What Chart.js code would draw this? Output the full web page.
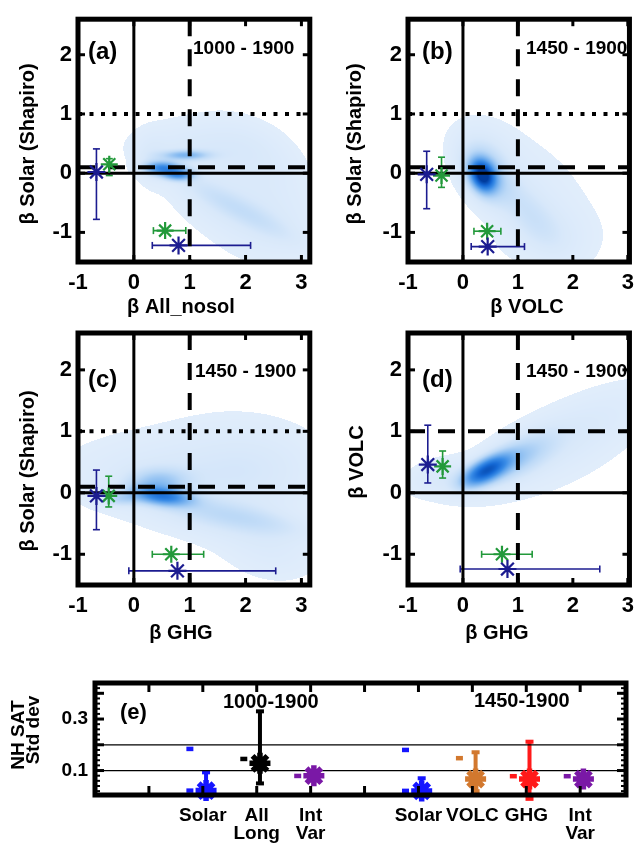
<!DOCTYPE html>
<html>
<head>
<meta charset="utf-8">
<script src="https://cdn.jsdelivr.net/npm/chart.js@4.4.1/dist/chart.umd.min.js"></script>
<style>
  body { margin: 0; background: #fff; width: 642px; height: 845px; position: relative; overflow: hidden; }
  canvas { position: absolute; }
</style>
</head>
<body>
<canvas id="pa" width="321" height="325" style="left:0;top:0"></canvas>
<canvas id="pb" width="321" height="325" style="left:321px;top:0"></canvas>
<canvas id="pc" width="321" height="345" style="left:0;top:300px"></canvas>
<canvas id="pd" width="321" height="345" style="left:321px;top:300px"></canvas>
<canvas id="pe" width="642" height="185" style="left:0;top:660px"></canvas>
<script>
// ---------- data ----------
// scatter panels: rows are [x, y, xLow, xHigh, yLow, yHigh]
const blueA  = [[-0.67, 0.02, null, null, -0.78, 0.41], [0.80, -1.22, 0.33, 2.09, null, null]];
const greenA = [[-0.44, 0.15, null, null, -0.04, 0.245], [0.56, -0.97, 0.35, 0.93, null, null]];
const blueB  = [[-0.66, -0.02, null, null, -0.60, 0.37], [0.45, -1.24, 0.15, 1.12, null, null]];
const greenB = [[-0.39, -0.04, null, null, -0.24, 0.27], [0.44, -0.98, 0.20, 0.69, null, null]];
const blueC  = [[-0.67, -0.05, null, null, -0.60, 0.37], [0.78, -1.27, -0.09, 2.54, null, null]];
const greenC = [[-0.45, -0.05, null, null, -0.23, 0.27], [0.67, -1.00, 0.33, 1.25, null, null]];
const blueD  = [[-0.64, 0.46, null, null, 0.16, 1.10], [0.81, -1.24, -0.05, 2.49, null, null]];
const greenD = [[-0.37, 0.43, null, null, 0.24, 0.68], [0.71, -1.00, 0.34, 1.26, null, null]];

// density clouds: blobs [cx, cy, spread along, spread across, angle deg, weight]
const cloudA = [[0.52, 0.08, 0.22, 0.075, 0, 0.50], [0.80, -0.03, 0.18, 0.065, 0, 0.45],
  [0.92, 0.30, 0.28, 0.055, 0, 0.28], [1.00, 0.45, 0.80, 0.30, 0, 0.06],
  [2.00, -0.05, 0.85, 0.55, -30, 0.06], [2.45, -0.95, 0.70, 0.45, -15, 0.06],
  [1.25, -0.45, 0.60, 0.30, -30, 0.05], [1.90, -0.62, 0.80, 0.14, -27, 0.08],
  [0.30, 0.20, 0.20, 0.30, 0, 0.05], [2.30, 0.35, 0.60, 0.30, -30, 0.03]];
const cloudB = [[0.36, -0.04, 0.17, 0.13, -60, 0.85], [0.40, -0.05, 0.33, 0.24, -55, 0.25],
  [1.15, -0.62, 0.60, 0.25, -45, 0.09], [0.35, 0.35, 0.45, 0.35, -30, 0.07],
  [1.35, -0.40, 0.90, 0.60, -45, 0.05], [1.50, -1.10, 0.65, 0.35, 0, 0.04]];
const cloudC = [[0.50, -0.05, 0.35, 0.10, -6, 0.55], [0.45, 0.20, 0.35, 0.13, 0, 0.20],
  [-0.25, -0.10, 0.25, 0.08, 0, 0.15], [1.80, -0.38, 0.90, 0.15, -10, 0.12],
  [0.20, 0.30, 1.10, 0.45, 0, 0.07], [1.90, 0.20, 1.00, 0.70, -15, 0.06],
  [2.50, -0.95, 0.60, 0.35, -10, 0.05], [1.20, -0.50, 0.80, 0.20, -10, 0.04],
  [2.40, 0.50, 0.80, 0.45, 0, 0.04]];
const cloudD = [[0.42, 0.36, 0.30, 0.12, 25, 0.70], [0.95, 0.55, 0.50, 0.20, 25, 0.20],
  [2.00, 1.00, 1.20, 0.35, 24, 0.06], [-0.40, 0.25, 0.45, 0.20, 8, 0.08],
  [1.60, 0.60, 1.30, 0.50, 20, 0.035]];

const xTickVals = [-1, 0, 1, 2, 3];
const yTickVals = [-1, 0, 1, 2];

// panel (e)
const eLabels = [['Solar'], ['All', 'Long'], ['Int', 'Var'], ['Solar'], ['VOLC'], ['GHG'], ['Int', 'Var']];
const ePos  = [2, 3, 4, 6, 7, 8, 9];
const eStar = [0.022, 0.128, 0.080, 0.021, 0.067, 0.067, 0.067];
const eLo   = [0.000, 0.050, null, 0.000, 0.020, -0.010, null];
const eHi   = [0.093, 0.330, null, 0.070, 0.171, 0.212, null];
const eDash = [[0.184, 0.022], [0.145], [0.079], [0.180, 0.021], [0.148], [0.078], [0.078]];
const eColors = ['#1515ff', '#000000', '#7a18a6', '#1515ff', '#d2782e', '#ff1a1a', '#7a18a6'];
const eRefLines = [0.1, 0.2];

// ---------- look ----------
const FONT = "'Liberation Sans', Arial, Helvetica, sans-serif";
const NAVY = '#1c1c90';
const GREEN = '#22993a';
Chart.defaults.font.family = FONT;
Chart.defaults.color = '#000';

const cmapStops = [[0, [228, 239, 252]], [0.1, [216, 232, 250]], [0.2, [188, 217, 247]],
  [0.35, [128, 183, 240]], [0.55, [58, 140, 230]], [0.75, [20, 104, 212]], [1, [0, 60, 158]]];
function cmap(t) {
  t = Math.min(1, t);
  for (let i = 1; i < cmapStops.length; i++) {
    if (t <= cmapStops[i][0]) {
      const [t0, c0] = cmapStops[i - 1], [t1, c1] = cmapStops[i];
      const f = (t - t0) / (t1 - t0);
      return c0.map((c, k) => Math.round(c + (c1[k] - c) * f));
    }
  }
  return cmapStops[cmapStops.length - 1][1];
}

// density cloud painted pixel by pixel through the chart scales
const cloudPlugin = {
  id: 'cloud',
  beforeDatasetsDraw(chart, args, opts) {
    if (!opts.blobs) return;
    const area = chart.chartArea, xs = chart.scales.x, ys = chart.scales.y;
    const w = Math.round(area.right - area.left), h = Math.round(area.bottom - area.top);
    const comps = opts.blobs.map(b => {
      const t = b[4] * Math.PI / 180;
      return { cx: b[0], cy: b[1], a: b[2], b: b[3], c: Math.cos(t), s: Math.sin(t), w: b[5] };
    });
    const img = chart.ctx.createImageData(w, h);
    for (let j = 0; j < h; j++) {
      const yv = ys.getValueForPixel(area.top + j + 0.5);
      for (let i = 0; i < w; i++) {
        const xv = xs.getValueForPixel(area.left + i + 0.5);
        let d = 0;
        comps.forEach(k => {
          const dx = xv - k.cx, dy = yv - k.cy;
          const u = dx * k.c + dy * k.s, v = -dx * k.s + dy * k.c;
          d += k.w * Math.exp(-0.5 * (u * u / (k.a * k.a) + v * v / (k.b * k.b)));
        });
        if (d < 0.025) continue;
        const col = cmap(d), p = (j * w + i) * 4;
        img.data[p] = col[0]; img.data[p + 1] = col[1]; img.data[p + 2] = col[2]; img.data[p + 3] = 255;
      }
    }
    chart.ctx.putImageData(img, Math.round(area.left), Math.round(area.top));
  }
};

// error bars with caps
const errPlugin = {
  id: 'errbars',
  beforeDatasetsDraw(chart, args, opts) {
    const ctx = chart.ctx, xs = chart.scales.x, ys = chart.scales.y;
    (opts.sets || []).forEach(set => {
      ctx.save();
      ctx.strokeStyle = set.color;
      ctx.lineWidth = set.width;
      const cap = set.cap;
      const seg = (x1, y1, x2, y2) => { ctx.beginPath(); ctx.moveTo(x1, y1); ctx.lineTo(x2, y2); ctx.stroke(); };
      set.rows.forEach(r => {
        const px = xs.getPixelForValue(r[0]), py = ys.getPixelForValue(r[1]);
        if (r[2] != null) {
          const a = xs.getPixelForValue(r[2]), b = xs.getPixelForValue(r[3]);
          seg(a, py, b, py); seg(a, py - cap, a, py + cap); seg(b, py - cap, b, py + cap);
        }
        if (r[4] != null) {
          const a = ys.getPixelForValue(r[4]), b = ys.getPixelForValue(r[5]);
          seg(px, a, px, b); seg(px - cap, a, px + cap, a); seg(px - cap, b, px + cap, b);
        }
      });
      ctx.restore();
    });
  }
};

// thick box with inward ticks
const framePlugin = {
  id: 'frame',
  afterDatasetsDraw(chart, args, opts) {
    const ctx = chart.ctx, a = chart.chartArea, xs = chart.scales.x, ys = chart.scales.y;
    ctx.save();
    ctx.strokeStyle = '#000';
    ctx.lineWidth = 3;
    const seg = (x1, y1, x2, y2) => { ctx.beginPath(); ctx.moveTo(x1, y1); ctx.lineTo(x2, y2); ctx.stroke(); };
    (opts.xTicks || []).forEach(v => {
      const p = xs.getPixelForValue(v);
      seg(p, a.top, p, a.top + opts.len); seg(p, a.bottom, p, a.bottom - opts.len);
    });
    (opts.yTicks || []).forEach(v => {
      const p = ys.getPixelForValue(v);
      seg(a.left, p, a.left + opts.len, p); seg(a.right, p, a.right - opts.len, p);
    });
    ctx.lineWidth = 2;
    (opts.yMinor || []).forEach(v => {
      const p = ys.getPixelForValue(v);
      seg(a.left, p, a.left + opts.minorLen, p); seg(a.right, p, a.right - opts.minorLen, p);
    });
    ctx.lineWidth = 5;
    ctx.strokeRect(a.left, a.top, a.right - a.left, a.bottom - a.top);
    ctx.restore();
  }
};

// free text: panel letters, periods, axis titles
const notesPlugin = {
  id: 'notes',
  afterDraw(chart, args, opts) {
    const ctx = chart.ctx;
    (opts.items || []).forEach(it => {
      ctx.save();
      ctx.font = 'bold ' + it.size + 'px ' + FONT;
      ctx.fillStyle = '#000';
      ctx.textAlign = it.align || 'center';
      ctx.textBaseline = 'middle';
      ctx.translate(it.x, it.y);
      if (it.rot) ctx.rotate(-Math.PI / 2);
      ctx.fillText(it.t, 0, 0);
      ctx.restore();
    });
  }
};

function refLine(pts, width, dash) {
  return { data: pts, showLine: true, borderColor: '#000', borderWidth: width, borderDash: dash,
    borderCapStyle: 'butt', pointRadius: 0, pointHoverRadius: 0 };
}

function scatterPanel(id, p) {
  const ymin = -1.5, ymax = 2.6, xmin = -1;
  const toPts = rows => rows.map(r => ({ x: r[0], y: r[1] }));
  const datasets = [
    { data: toPts(p.blue), pointStyle: 'star', pointRadius: 9, pointBorderWidth: 2.2,
      pointBorderColor: NAVY, borderColor: NAVY, clip: false },
    { data: toPts(p.green), pointStyle: 'star', pointRadius: 8.5, pointBorderWidth: 2.2,
      pointBorderColor: GREEN, borderColor: GREEN, clip: false },
    refLine([{ x: 0, y: ymin }, { x: 0, y: ymax }], 3, []),
    refLine([{ x: xmin, y: 0 }, { x: p.xmax, y: 0 }], 3, []),
    refLine([{ x: 1, y: ymax }, { x: 1, y: ymin }], 4, [17, 13])
  ];
  p.dashH.forEach(v => datasets.push(refLine([{ x: xmin, y: v }, { x: p.xmax, y: v }], 4, [17, 13])));
  p.dotH.forEach(v => datasets.push(refLine([{ x: xmin, y: v }, { x: p.xmax, y: v }], 4, [4, 7.5])));

  return new Chart(document.getElementById(id), {
    type: 'scatter',
    data: { datasets },
    options: {
      responsive: false, animation: false, devicePixelRatio: 1,
      layout: { padding: { top: p.top, right: p.right, left: 0, bottom: 0 } },
      plugins: {
        legend: { display: false }, tooltip: { enabled: false },
        cloud: { blobs: p.cloud },
        errbars: { sets: [{ color: NAVY, width: 1.6, cap: 3.5, rows: p.blue },
                          { color: GREEN, width: 1.6, cap: 3.5, rows: p.green }] },
        frame: { xTicks: xTickVals, yTicks: yTickVals, len: 7 },
        notes: { items: p.texts }
      },
      scales: {
        x: {
          type: 'linear', min: xmin, max: p.xmax,
          afterBuildTicks: s => { s.ticks = xTickVals.map(v => ({ value: v })); },
          afterFit: s => { s.height = p.xH; },
          grid: { display: false, drawTicks: false }, border: { display: false },
          ticks: { font: { size: 22, weight: 'bold' }, color: '#000', padding: 8, maxRotation: 0,
            autoSkip: false, callback: v => String(v) }
        },
        y: {
          type: 'linear', min: ymin, max: ymax,
          afterBuildTicks: s => { s.ticks = yTickVals.map(v => ({ value: v })); },
          afterFit: s => { s.width = p.yW; },
          grid: { display: false, drawTicks: false }, border: { display: false },
          ticks: { font: { size: 22, weight: 'bold' }, color: '#000', padding: 6, autoSkip: false,
            callback: v => String(v) }
        }
      }
    },
    plugins: [cloudPlugin, errPlugin, framePlugin, notesPlugin]
  });
}

scatterPanel('pa', {
  blue: blueA, green: greenA, cloud: cloudA, xmax: 3.15, dashH: [0.1], dotH: [1],
  top: 8, right: 11, yW: 78, xH: 63,
  texts: [
    { t: '(a)', x: 88, y: 52, size: 24, align: 'left' },
    { t: '1000 - 1900', x: 193, y: 49, size: 19, align: 'left' },
    { t: 'β All_nosol', x: 181, y: 307, size: 20 },
    { t: 'β Solar (Shapiro)', x: 28, y: 144, size: 20, rot: true }
  ]
});
scatterPanel('pb', {
  blue: blueB, green: greenB, cloud: cloudB, xmax: 3.03, dashH: [0.1], dotH: [1],
  top: 8, right: 4, yW: 87, xH: 63,
  texts: [
    { t: '(b)', x: 101, y: 52, size: 24, align: 'left' },
    { t: '1450 - 1900', x: 205, y: 49, size: 19, align: 'left' },
    { t: 'β VOLC', x: 206, y: 307, size: 20 },
    { t: 'β Solar (Shapiro)', x: 34, y: 144, size: 20, rot: true }
  ]
});
scatterPanel('pc', {
  blue: blueC, green: greenC, cloud: cloudC, xmax: 3.15, dashH: [0.1], dotH: [1],
  top: 33, right: 11, yW: 78, xH: 60,
  texts: [
    { t: '(c)', x: 88, y: 80, size: 24, align: 'left' },
    { t: '1450 - 1900', x: 195, y: 72, size: 19, align: 'left' },
    { t: 'β GHG', x: 181, y: 333, size: 20 },
    { t: 'β Solar (Shapiro)', x: 28, y: 171, size: 20, rot: true }
  ]
});
scatterPanel('pd', {
  blue: blueD, green: greenD, cloud: cloudD, xmax: 3.03, dashH: [1], dotH: [],
  top: 33, right: 4, yW: 87, xH: 60,
  texts: [
    { t: '(d)', x: 101, y: 80, size: 24, align: 'left' },
    { t: '1450 - 1900', x: 205, y: 72, size: 19, align: 'left' },
    { t: 'β GHG', x: 176, y: 333, size: 20 },
    { t: 'β VOLC', x: 36, y: 162, size: 20, rot: true }
  ]
});

// ---------- panel (e) ----------
const starShift = 0.06, dashShift = -0.24;
const dashPts = [], dashCols = [];
eDash.forEach((vals, i) => vals.forEach(v => { dashPts.push({ x: ePos[i] + dashShift, y: v }); dashCols.push(eColors[i]); }));
const eErrSets = ePos.map((p, i) => ({
  color: eColors[i], width: 4, cap: 4,
  rows: eLo[i] == null ? [] : [[p + starShift, eStar[i], null, null, eLo[i], eHi[i]]]
}));
const eMinor = [];
for (let k = 1; k <= 22; k++) eMinor.push(k * 0.02);

new Chart(document.getElementById('pe'), {
  type: 'scatter',
  data: {
    datasets: [
      { data: ePos.map((p, i) => ({ x: p + starShift, y: eStar[i] })), pointStyle: 'star',
        pointRadius: 10.5, pointBorderWidth: 5.5, pointBorderColor: eColors, clip: false },
      { data: dashPts, pointStyle: 'line', pointRadius: 3.5, pointBorderWidth: 4.5,
        pointBorderColor: dashCols, clip: false },
      ...eRefLines.map(v => refLine([{ x: 0, y: v }, { x: 9.85, y: v }], 1.3, []))
    ]
  },
  options: {
    responsive: false, animation: false, devicePixelRatio: 1,
    layout: { padding: { top: 23, right: 5, left: 0, bottom: 0 } },
    plugins: {
      legend: { display: false }, tooltip: { enabled: false },
      errbars: { sets: eErrSets },
      frame: { xTicks: [1, 2, 3, 4, 5, 6, 7, 8, 9], yTicks: [0.1, 0.2, 0.3, 0.4], yMinor: eMinor,
        len: 9, minorLen: 5 },
      notes: { items: [
        { t: '(e)', x: 120, y: 53, size: 22, align: 'left' },
        { t: '1000-1900', x: 223, y: 42, size: 20, align: 'left' },
        { t: '1450-1900', x: 474, y: 41, size: 20, align: 'left' },
        { t: 'NH SAT', x: 19, y: 75, size: 19, rot: true },
        { t: 'Std dev', x: 34, y: 70, size: 19, rot: true }
      ] }
    },
    scales: {
      x: {
        type: 'linear', min: 0, max: 9.85,
        afterBuildTicks: s => { s.ticks = ePos.map(v => ({ value: v })); },
        afterFit: s => { s.height = 50; },
        grid: { display: false, drawTicks: false }, border: { display: false },
        ticks: { font: { size: 19, weight: 'bold', lineHeight: 0.95 }, color: '#000', padding: 12,
          maxRotation: 0, autoSkip: false, callback: (v, i) => eLabels[i] }
      },
      y: {
        type: 'linear', min: 0.005, max: 0.44,
        afterBuildTicks: s => { s.ticks = [0.1, 0.3].map(v => ({ value: v })); },
        afterFit: s => { s.width = 95; },
        grid: { display: false, drawTicks: false }, border: { display: false },
        ticks: { font: { size: 19, weight: 'bold' }, color: '#000', padding: 7, autoSkip: false,
          callback: v => v.toFixed(1) }
      }
    }
  },
  plugins: [errPlugin, framePlugin, notesPlugin]
});
</script>
</body>
</html>
